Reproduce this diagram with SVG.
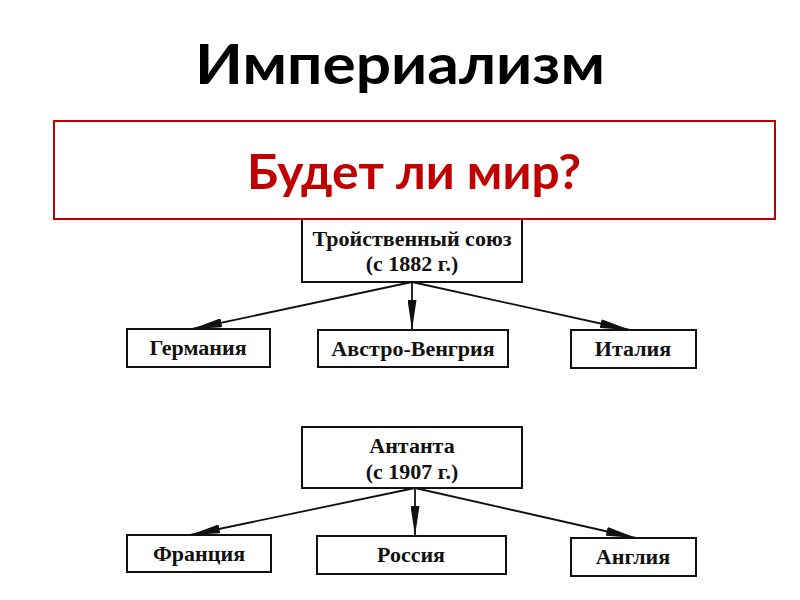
<svg xmlns="http://www.w3.org/2000/svg" width="800" height="600" viewBox="0 0 800 600">
<style>
.box{fill:#fff;stroke:#111;stroke-width:2}
.t{font-family:"Liberation Serif",serif;font-size:22px;font-weight:bold;fill:#111;text-anchor:middle}
.c{stroke:#111;stroke-width:1.8;fill:none;marker-end:url(#ah)}
</style>
<defs>
<marker id="ah" viewBox="0 0 30 9" refX="30" refY="4.5" markerWidth="30" markerHeight="9" markerUnits="userSpaceOnUse" orient="auto">
<path d="M0,0 L30,4.5 L0,9 Z" fill="#111"/>
</marker>
</defs>
<rect width="800" height="600" fill="#fff"/>
<text x="400" y="84" font-family="Lato,'Open Sans',sans-serif" font-weight="bold" font-size="55" text-anchor="middle" textLength="410" lengthAdjust="spacingAndGlyphs" fill="#000">Империализм</text>
<g id="n-triple">
<rect class="box" x="302" y="212" width="220" height="70"/>
<text class="t" x="412" y="246">Тройственный союз</text>
<text class="t" x="412" y="271">(с 1882 г.)</text>
</g>
<g id="title-box">
<rect x="54" y="121" width="721" height="98" fill="#fff" stroke="#c00000" stroke-width="2"/>
<text x="414" y="189" font-family="Lato,'Open Sans',sans-serif" font-weight="bold" font-size="48" text-anchor="middle" textLength="334" lengthAdjust="spacingAndGlyphs" fill="#c00000">Будет ли мир?</text>
</g>
<g id="n-germany">
<rect class="box" x="127" y="329" width="143" height="38"/>
<text class="t" x="198" y="355">Германия</text>
</g>
<g id="n-austria">
<rect class="box" x="318" y="330" width="190" height="37"/>
<text class="t" x="413" y="356">Австро-Венгрия</text>
</g>
<g id="n-italy">
<rect class="box" x="571" y="330" width="125" height="38"/>
<text class="t" x="633" y="356">Италия</text>
</g>
<g id="n-entente">
<rect class="box" x="302" y="427" width="220" height="61"/>
<text class="t" x="412" y="453">Антанта</text>
<text class="t" x="412" y="479">(с 1907 г.)</text>
</g>
<g id="n-france">
<rect class="box" x="127" y="535" width="144" height="37"/>
<text class="t" x="199" y="561">Франция</text>
</g>
<g id="n-russia">
<rect class="box" x="317" y="536" width="189" height="38"/>
<text class="t" x="411" y="562">Россия</text>
</g>
<g id="n-england">
<rect class="box" x="571" y="538" width="125" height="38"/>
<text class="t" x="633" y="564">Англия</text>
</g>
<g id="connectors">
<line class="c" x1="412" y1="282" x2="192" y2="329"/>
<line class="c" x1="412" y1="282" x2="412" y2="330"/>
<line class="c" x1="412" y1="282" x2="630" y2="330"/>
<line class="c" x1="415" y1="488" x2="190" y2="535"/>
<line class="c" x1="415" y1="488" x2="415" y2="536"/>
<line class="c" x1="415" y1="488" x2="636" y2="538"/>
</g>
</svg>
